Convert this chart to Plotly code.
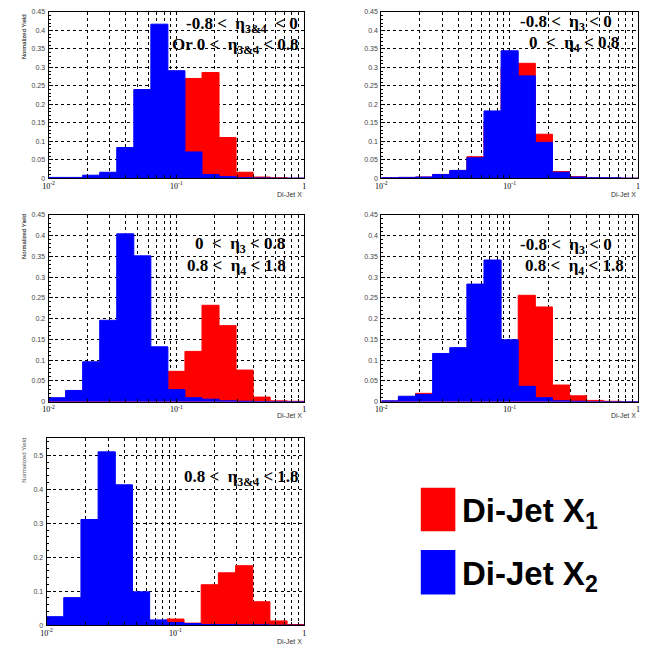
import plotly.graph_objects as go

# page body adds an 8px margin, so the figure is drawn 8px in and shrunk to fit
OFF = 8
W, H = 649 - 2 * OFF, 652 - 2 * OFF
NBINS = 15
bin_edges = [0.01 * 10 ** (2 * k / NBINS) for k in range(NBINS + 1)]

# Di-Jet X1 (red) and X2 (blue), 15 log bins from 0.01 to 1
x1_p1 = [0.0, 0.0, 0.001, 0.002, 0.008, 0.025, 0.08, 0.2, 0.27, 0.286, 0.11, 0.016, 0.003, 0.001, 0.0]
x2_p1 = [0.002, 0.002, 0.008, 0.016, 0.083, 0.24, 0.417, 0.291, 0.071, 0.01, 0.004, 0.001, 0.0005, 0.0, 0.0]

x1_p2 = [0.001, 0.002, 0.003, 0.01, 0.02, 0.058, 0.15, 0.3, 0.311, 0.119, 0.018, 0.004, 0.001, 0.001, 0.0]
x2_p2 = [0.001, 0.002, 0.003, 0.01, 0.021, 0.055, 0.182, 0.345, 0.277, 0.097, 0.016, 0.003, 0.001, 0.001, 0.0]

x1_p3 = [0.001, 0.001, 0.001, 0.001, 0.002, 0.005, 0.03, 0.073, 0.121, 0.232, 0.183, 0.076, 0.011, 0.002, 0.001]
x2_p3 = [0.0095, 0.027, 0.096, 0.196, 0.404, 0.351, 0.132, 0.029, 0.0095, 0.006, 0.002, 0.001, 0.0, 0.0, 0.0]

x1_p4 = [0.001, 0.01, 0.02, 0.01, 0.02, 0.04, 0.08, 0.12, 0.256, 0.228, 0.04, 0.014, 0.003, 0.001, 0.0]
x2_p4 = [0.002, 0.013, 0.0175, 0.116, 0.13, 0.283, 0.341, 0.149, 0.037, 0.0095, 0.002, 0.001, 0.0, 0.0, 0.0]

x1_p5 = [0.001, 0.001, 0.001, 0.001, 0.001, 0.001, 0.001, 0.018, 0.006, 0.119, 0.154, 0.175, 0.069, 0.0125, 0.002]
x2_p5 = [0.025, 0.081, 0.311, 0.51, 0.413, 0.098, 0.0155, 0.008, 0.005, 0.002, 0.002, 0.001, 0.001, 0.0, 0.0]

panels = [
    dict(x1=x1_p1, x2=x2_p1, ymax=0.45, dy=0.05, mdy=0.01, px=(43, 302), py=(6, 176),
         labels=[("-0.8 <  η<sub>3&4</sub>  < 0", 298, 21), ("Or 0 <  η<sub>3&4</sub> < 0.8", 299, 42)],
         xtitle_y=193),
    dict(x1=x1_p2, x2=x2_p2, ymax=0.45, dy=0.05, mdy=0.01, px=(380, 640), py=(6, 176),
         labels=[("-0.8 <  η<sub>3</sub> < 0", 616, 19), ("0  <  η<sub>4</sub> < 0.8", 623, 40)],
         xtitle_y=193),
    dict(x1=x1_p3, x2=x2_p3, ymax=0.45, dy=0.05, mdy=0.01, px=(43, 302), py=(213, 402),
         labels=[("0  <  η<sub>3</sub> < 0.8", 284, 244), ("0.8 <  η<sub>4</sub> < 1.8", 286, 266)],
         xtitle_y=416),
    dict(x1=x1_p4, x2=x2_p4, ymax=0.45, dy=0.05, mdy=0.01, px=(380, 640), py=(213, 402),
         labels=[("-0.8 <  η<sub>3</sub> < 0", 616, 245), ("0.8 <  η<sub>4</sub> < 1.8", 628, 266)],
         xtitle_y=416),
    dict(x1=x1_p5, x2=x2_p5, ymax=0.55, dy=0.1, mdy=0.02, px=(41, 302), py=(439, 628),
         labels=[("0.8 <  η<sub>3&4</sub> < 1.8", 299, 479)],
         xtitle_y=644),
]

RED = "#ff0000"
BLUE = "#0000ff"

fig = go.Figure()
annotations = []
shapes = []

tickvals = []
for dec in (0.01, 0.1):
    tickvals += [dec * m for m in range(1, 10)]
tickvals.append(1.0)
ticktext = ["" for _ in tickvals]
ticktext[0] = "10<sup>-2</sup>"
ticktext[9] = "10<sup>-1</sup>"
ticktext[-1] = "1"


def fx(x):
    return min(1.0, max(0.0, (x - OFF) / W))


def fy(y):
    return min(1.0, max(0.0, 1 - (y - OFF) / H))


layout_axes = {}
for i, p in enumerate(panels):
    n = "" if i == 0 else str(i + 1)
    xa, ya = "x" + n, "y" + n
    for vals, col in ((p["x1"], RED), (p["x2"], BLUE)):
        fig.add_trace(go.Scatter(
            x=bin_edges, y=list(vals) + [vals[-1]],
            mode="lines", line=dict(shape="hv", color=col, width=1),
            fill="tozeroy", fillcolor=col, xaxis=xa, yaxis=ya,
            showlegend=False, hoverinfo="skip"))
    layout_axes["xaxis" + n] = dict(
        type="log", range=[-2, 0], domain=[fx(p["px"][0]), fx(p["px"][1])],
        anchor=ya, tickmode="array", tickvals=tickvals, ticktext=ticktext,
        ticks="inside", ticklen=3, tickcolor="black", showline=True,
        linecolor="black", linewidth=1, mirror=True, showgrid=True,
        gridcolor="black", griddash="dot", gridwidth=1, zeroline=False,
        tickfont=dict(family="Liberation Serif", size=8, color="black"),
        ticklabelstandoff=0, layer="above traces")
    layout_axes["yaxis" + n] = dict(
        range=[0, p["ymax"]], domain=[fy(p["py"][1]), fy(p["py"][0])],
        anchor=xa, dtick=p["dy"], tick0=0, ticks="inside", ticklen=4,
        tickcolor="black", showline=True, linecolor="black", linewidth=1,
        mirror=True, showgrid=True, gridcolor="black", griddash="dot",
        gridwidth=1, zeroline=False,
        minor=dict(dtick=p["mdy"], ticks="inside", ticklen=2, tickcolor="black", showgrid=False),
        tickfont=dict(family="Liberation Sans", size=7, color="#444444"),
        ticklabelstandoff=1, layer="above traces")
    # axis titles
    annotations.append(dict(
        text="Normalized Yield", x=fx(18), y=fy(p["py"][0] - 3),
        xref="paper", yref="paper", textangle=-90, xanchor="center", yanchor="top",
        showarrow=False, font=dict(family="Liberation Sans", size=6, color="#555555")))
    annotations.append(dict(
        text="Di-Jet X", x=fx(p["px"][1]), y=fy(p["xtitle_y"]),
        xref="paper", yref="paper", xanchor="right", yanchor="middle",
        showarrow=False, font=dict(family="Liberation Sans", size=7, color="#333333")))
    for txt, rx, cy in p["labels"]:
        annotations.append(dict(
            text="<b>" + txt + "</b>", x=fx(rx), y=fy(cy), xref="paper", yref="paper",
            xanchor="right", yanchor="middle", showarrow=False,
            font=dict(family="Liberation Serif", size=17, color="black")))

# legend drawn as boxes and labels
legend_items = [("Di-Jet X<sub>1</sub>", RED, 489, 533), ("Di-Jet X<sub>2</sub>", BLUE, 552, 597)]
for txt, col, y0, y1 in legend_items:
    shapes.append(dict(type="rect", xref="paper", yref="paper",
                       x0=fx(420), x1=fx(455), y0=fy(y1), y1=fy(y0),
                       fillcolor=col, line=dict(width=0)))
    annotations.append(dict(
        text="<b>" + txt + "</b>", x=fx(460), y=fy((y0 + y1) / 2 + 4), xref="paper", yref="paper",
        xanchor="left", yanchor="middle", showarrow=False,
        font=dict(family="Liberation Sans", size=33, color="black")))

fig.update_layout(
    width=W, height=H, margin=dict(l=0, r=0, t=0, b=0),
    paper_bgcolor="white", plot_bgcolor="white",
    annotations=annotations, shapes=shapes, **layout_axes)

fig.write_html("out.html")
